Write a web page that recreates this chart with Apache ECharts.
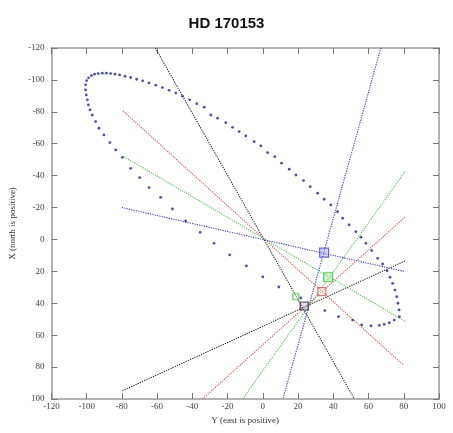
<!DOCTYPE html>
<html>
<head>
<meta charset="utf-8">
<script src="https://cdn.jsdelivr.net/npm/echarts@6/dist/echarts.min.js"></script>
<style>
html,body{margin:0;padding:0;background:#fff;}
#chart{width:453px;height:433px;}
</style>
</head>
<body>
<div id="chart"></div>
<script>
// Title and axis texts
const chartTitle = "HD 170153";
const xAxisName = "Y (east is positive)";
const yAxisName = "X (north is positive)";
const tickValues = [-120, -100, -80, -60, -40, -20, 0, 20, 40, 60, 80, 100];

// Orbit dots: east (Y, horizontal) and north (X, vertical, positive down)
const orbitEast = [
  -96.8, -98.1, -99.0, -99.6, -100.2, -100.6, -100.6, -100.0, -98.9, -97.3,
  -95.5, -93.4, -91.1, -88.8, -86.4, -83.9, -81.3, -78.2, -75.0, -71.6,
  -68.2, -64.6, -60.8, -57.0, -53.2, -49.4, -45.6, -41.5, -37.5, -33.3,
  -29.5, -25.7, -21.0, -17.2, -13.4, -9.7, -4.9, -1.1, 2.7, 6.8,
  10.6, 15.0, 18.8, 23.1, 26.9, 31.1, 34.8, 38.6, 42.4, 45.3,
  49.0, 52.8, 55.7, 58.5, 61.8, 65.2, 68.0, 70.5, 72.2, 73.7,
  75.0, 76.0, 76.7, 77.3, 77.5, 74.6, 71.8, 68.9, 66.1, 61.4,
  56.1, 51.0, 43.0, 35.2, 21.6, 9.1, 0.0, -9.3, -18.8, -27.7,
  -35.6, -43.8, -51.3, -58.0, -64.6, -69.9, -75.0, -79.7, -83.5, -86.8,
  -90.2, -93.0, -94.9
];
const orbitNorth = [
  -78.0, -81.2, -84.3, -87.5, -90.6, -93.7, -96.9, -99.6, -101.3, -102.7,
  -103.6, -104.0, -104.2, -104.2, -104.0, -103.6, -103.1, -102.3, -101.5, -100.4,
  -99.4, -98.1, -96.7, -95.2, -93.5, -91.8, -89.8, -87.5, -85.1, -82.9,
  -78.0, -76.0, -73.2, -70.3, -67.6, -64.9, -61.3, -58.6, -54.4, -51.9,
  -47.8, -44.0, -40.4, -36.9, -33.1, -29.0, -25.2, -21.6, -17.4, -13.3,
  -9.1, -4.9, -1.4, 2.4, 7.0, 11.8, 15.4, 19.6, 23.7, 27.5,
  31.7, 35.9, 40.0, 44.2, 48.4, 50.5, 52.2, 53.2, 53.8, 54.2,
  53.6, 50.5, 48.4, 44.6, 36.7, 29.8, 23.5, 16.6, 9.7, 2.4,
  -4.5, -11.6, -19.1, -26.4, -32.5, -38.7, -44.6, -51.5, -56.1, -60.7,
  -65.5, -69.7, -73.9
];

// Dotted lines: [eastStart, northStart, eastEnd, northEnd]
const lineBlackA = [-61, -120, 52, 100];
const lineBlackB = [-79.7, 94.8, 80.7, 13.5];
const lineBlueA  = [67, -120, 11.4, 100];
const lineBlueB  = [-80, -20, 80, 20];
const lineRedA   = [-79.4, -80.6, 80, 79];
const lineRedB   = [-34.3, 100, 80.7, -14];
const lineGreenA = [-78.8, -51.9, 81.3, 51.7];
const lineGreenB = [-11.5, 100, 80.7, -42.5];

// Square markers: [east, north]
const markBlue  = [34.8, 8.3];
const markGreen = [37.1, 23.7];
const markRed   = [33.5, 32.7];
const markGreenSmall = [18.75, 35.9];
const markBlack = [23.5, 41.7];

const chart = echarts.init(document.getElementById('chart'));
const serif = "'Liberation Serif', 'DejaVu Serif', serif";

function lineSeries(arr, color) {
  return {
    type: 'line',
    data: [[arr[0], arr[1]], [arr[2], arr[3]]],
    symbol: 'none',
    silent: true,
    clip: true,
    lineStyle: { color: color, width: 1.1, type: [1.2, 1.2] },
    z: 3
  };
}
function squareSeries(pt, size, stroke, fill) {
  return {
    type: 'scatter',
    data: [pt],
    symbol: 'rect',
    symbolSize: size,
    itemStyle: { color: fill, borderColor: stroke, borderWidth: 1.2 },
    z: 5
  };
}

const baseAxis = {
  type: 'value', min: -120, max: 100, interval: 20,
  axisLine: { show: true, onZero: false, lineStyle: { color: '#9a9a9a', width: 1.5 } },
  axisTick: { show: true, inside: true, length: 6, lineStyle: { color: '#777', width: 1 } },
  splitLine: { show: false }
};

const option = {
  backgroundColor: '#ffffff',
  animation: false,
  title: {
    text: chartTitle, left: 'center', top: 11,
    textStyle: { fontFamily: "'Liberation Sans', Arial, sans-serif", fontWeight: 'bold', fontSize: 15, color: '#111' }
  },
  grid: { left: 51, right: 14, top: 48, bottom: 34 },
  xAxis: [
    Object.assign({}, baseAxis, {
      position: 'bottom',
      name: xAxisName, nameLocation: 'middle', nameGap: 13,
      nameTextStyle: { fontFamily: serif, fontSize: 9, color: '#333' },
      axisLabel: { fontFamily: serif, fontSize: 9, color: '#444', margin: 3,
        formatter: v => tickValues.includes(v) ? String(v) : '' }
    }),
    Object.assign({}, baseAxis, { position: 'top', axisLabel: { show: false } })
  ],
  yAxis: [
    Object.assign({}, baseAxis, {
      position: 'left', inverse: true,
      name: yAxisName, nameLocation: 'middle', nameGap: 29, nameRotate: 90,
      nameTextStyle: { fontFamily: serif, fontSize: 9, color: '#333' },
      axisLabel: { fontFamily: serif, fontSize: 9, color: '#444', margin: 7,
        formatter: v => tickValues.includes(v) ? String(v) : '' }
    }),
    Object.assign({}, baseAxis, { position: 'right', inverse: true, axisLabel: { show: false } })
  ],
  series: [
    lineSeries(lineBlackA, '#222222'),
    lineSeries(lineBlackB, '#222222'),
    lineSeries(lineRedA, '#d9534f'),
    lineSeries(lineRedB, '#d9534f'),
    lineSeries(lineGreenA, '#4fc24f'),
    lineSeries(lineGreenB, '#4fc24f'),
    lineSeries(lineBlueA, '#3a3ab8'),
    lineSeries(lineBlueB, '#3a3ab8'),
    {
      type: 'scatter',
      data: orbitEast.map((e, i) => [e, orbitNorth[i]]),
      symbol: 'circle', symbolSize: 2.8,
      itemStyle: { color: '#26268c' },
      z: 4
    },
    squareSeries(markBlue, 9, '#4a4ac8', 'rgba(160,160,230,0.6)'),
    squareSeries(markGreen, 9, '#3cbc3c', 'rgba(170,235,170,0.6)'),
    squareSeries(markRed, 8, '#d9534f', 'rgba(255,255,255,0.3)'),
    squareSeries(markGreenSmall, 6, '#3cbc3c', 'rgba(255,255,255,0.5)'),
    squareSeries(markBlack, 8, '#222222', 'rgba(180,160,220,0.5)')
  ]
};
chart.setOption(option);
</script>
</body>
</html>
